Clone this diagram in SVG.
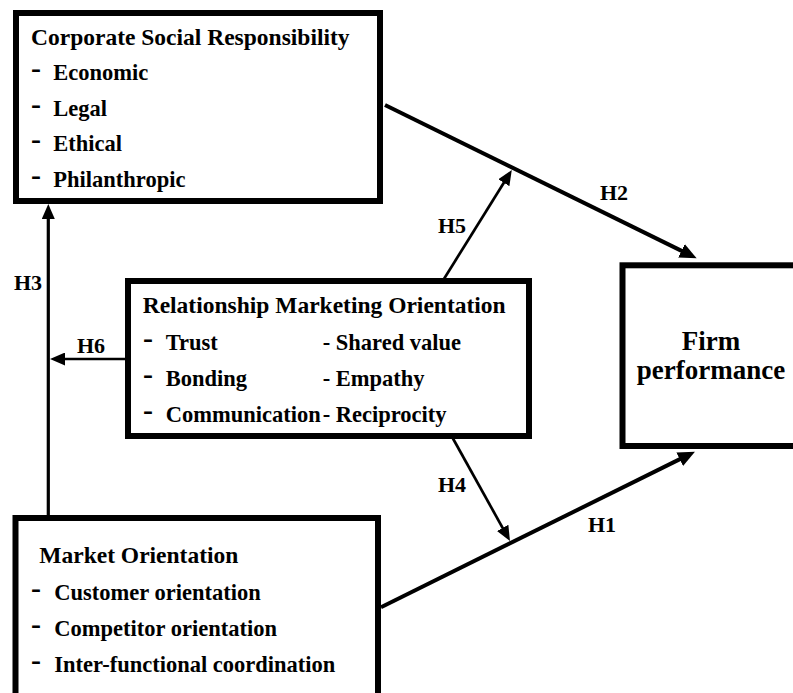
<svg xmlns="http://www.w3.org/2000/svg" width="793" height="693" viewBox="0 0 793 693">
<style>
.box{fill:#fff;stroke:#000;stroke-width:6}
.hd{font-family:"Liberation Serif","Times New Roman",serif;font-weight:bold;font-size:23.5px;fill:#000}
.it{font-family:"Liberation Serif","Times New Roman",serif;font-weight:bold;font-size:22.5px;fill:#000}
.ds{font-family:"Liberation Serif","Times New Roman",serif;font-weight:bold;font-size:30px;fill:#000}
.lb{font-family:"Liberation Serif","Times New Roman",serif;font-weight:bold;font-size:22px;fill:#000}
.fp{font-family:"Liberation Serif","Times New Roman",serif;font-weight:bold;font-size:27px;fill:#000;text-anchor:middle}
.thick{stroke:#000;stroke-width:4;fill:none}
.thin{stroke:#000;stroke-width:2.7;fill:none}
</style>
<defs>
<marker id="ah" markerUnits="userSpaceOnUse" markerWidth="17" markerHeight="15" refX="7" refY="7.5" orient="auto">
<path d="M0,0 L17,7.5 L0,15 z" fill="#000"/>
</marker>
<marker id="ahs" markerUnits="userSpaceOnUse" markerWidth="15" markerHeight="13" refX="5" refY="6.5" orient="auto">
<path d="M0,0 L15,6.5 L0,13 z" fill="#000"/>
</marker>
</defs>

<g id="connectors">
<line class="thick" x1="385" y1="105" x2="687.7" y2="253.9" marker-end="url(#ah)"/>
<line class="thick" x1="381" y1="607.3" x2="686" y2="456.1" marker-end="url(#ah)"/>
<line class="thin" x1="443.3" y1="280" x2="506.5" y2="178.5" marker-end="url(#ahs)"/>
<line class="thin" x1="452.7" y1="438" x2="505.1" y2="532.3" marker-end="url(#ahs)"/>
<line class="thin" x1="48.3" y1="518" x2="48.3" y2="214" marker-end="url(#ahs)" style="stroke-width:3.2"/>
<line class="thin" x1="128" y1="359" x2="60" y2="359" marker-end="url(#ahs)"/>
<text class="lb" x="600" y="200">H2</text>
<text class="lb" x="438" y="233">H5</text>
<text class="lb" x="14" y="290">H3</text>
<text class="lb" x="77" y="353">H6</text>
<text class="lb" x="438" y="492">H4</text>
<text class="lb" x="588" y="532">H1</text>
</g>

<g id="csr">
<rect class="box" x="16" y="13" width="364" height="188"/>
<text class="hd" x="31" y="44.5">Corporate Social Responsibility</text>
<text class="ds" x="31" y="78">-</text><text class="it" x="53.3" y="80">Economic</text>
<text class="ds" x="31" y="113.5">-</text><text class="it" x="53.3" y="115.5">Legal</text>
<text class="ds" x="31" y="149">-</text><text class="it" x="53.3" y="151">Ethical</text>
<text class="ds" x="31" y="184.5">-</text><text class="it" x="53.3" y="186.5">Philanthropic</text>
</g>

<g id="rmo">
<rect class="box" x="128" y="281" width="401" height="155"/>
<text class="hd" x="142.7" y="313.3">Relationship Marketing Orientation</text>
<text class="ds" x="143" y="348">-</text><text class="it" x="165.7" y="350">Trust</text>
<text class="ds" x="143" y="384">-</text><text class="it" x="165.7" y="386">Bonding</text>
<text class="ds" x="143" y="420">-</text><text class="it" x="165.7" y="422">Communication</text>
<text class="it" x="322.7" y="350">- Shared value</text>
<text class="it" x="322.7" y="386">- Empathy</text>
<text class="it" x="322.7" y="422">- Reciprocity</text>
</g>

<g id="mo">
<rect class="box" x="15.5" y="518" width="362.5" height="200"/>
<text class="hd" x="39.3" y="563.3">Market Orientation</text>
<text class="ds" x="31" y="598">-</text><text class="it" x="54.3" y="600">Customer orientation</text>
<text class="ds" x="31" y="634">-</text><text class="it" x="54.3" y="636">Competitor orientation</text>
<text class="ds" x="31" y="670">-</text><text class="it" x="54.3" y="672">Inter-functional coordination</text>
</g>

<g id="fp">
<rect class="box" x="622.5" y="265.3" width="200" height="180.7"/>
<text class="fp" x="711" y="350">Firm</text>
<text class="fp" x="711" y="379">performance</text>
</g>
</svg>
